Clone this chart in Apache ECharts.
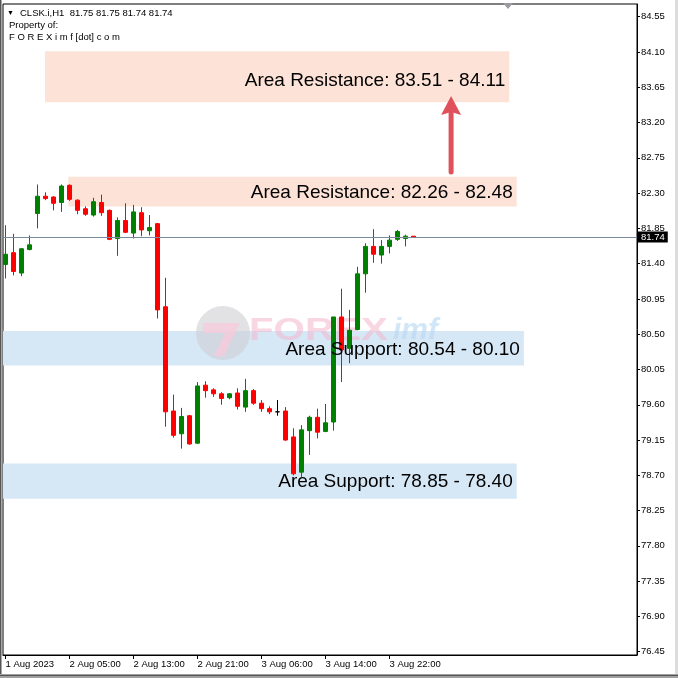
<!DOCTYPE html>
<html>
<head>
<meta charset="utf-8">
<script src="https://cdn.jsdelivr.net/npm/echarts@6/dist/echarts.min.js"></script>
<style>
html,body{margin:0;padding:0;background:#fff;}
#chart{width:678px;height:678px;}
</style>
</head>
<body>
<div id="chart"></div>
<script>
// ---- candle data (H1 bars, index = bar number) ----
const opens  = [81.39,81.54,81.28,81.58,82.04,82.26,82.25,82.18,82.40,82.21,82.10,82.02,82.18,82.08,81.72,81.95,81.79,82.05,81.82,81.91,80.85,79.52,79.23,79.46,79.11,79.85,79.79,79.74,79.69,79.75,79.57,79.78,79.62,79.55,79.51,79.52,79.19,78.74,79.27,79.44,79.26,79.38,80.72,80.32,80.56,81.27,81.62,81.51,81.62,81.71,81.72,81.75];
const closes = [81.52,81.30,81.59,81.64,82.26,82.23,82.17,82.39,82.22,82.08,82.03,82.19,82.05,81.71,81.95,81.80,82.06,81.83,81.86,80.81,79.51,79.21,79.45,79.10,79.84,79.78,79.74,79.68,79.74,79.58,79.78,79.62,79.55,79.51,79.51,79.15,78.72,79.28,79.44,79.25,79.37,80.72,80.30,80.55,81.27,81.62,81.52,81.62,81.70,81.81,81.75,81.74];
const lows   = [81.21,81.25,81.24,81.57,81.85,82.21,82.08,82.06,82.20,82.03,82.01,82.00,82.01,81.70,81.50,81.79,81.72,81.75,81.76,80.70,79.32,79.18,79.04,79.09,79.10,79.69,79.70,79.60,79.67,79.54,79.51,79.60,79.51,79.48,79.46,79.14,78.70,78.68,78.96,79.17,79.25,79.27,79.89,80.13,80.55,81.03,81.41,81.40,81.53,81.69,81.62,81.74];
const highs  = [81.89,81.78,81.60,81.76,82.41,82.31,82.26,82.41,82.41,82.22,82.13,82.24,82.28,82.09,81.99,82.17,82.15,82.12,82.02,81.92,81.22,79.73,79.56,79.47,79.89,79.90,79.81,79.76,79.75,79.81,79.93,79.80,79.66,79.58,79.66,79.57,79.30,79.34,79.46,79.55,79.61,80.72,81.08,80.81,81.36,81.66,81.84,81.70,81.76,81.83,81.77,81.75];

// ---- axis tick labels ----
const xTickIndex  = [0, 8, 16, 24, 32, 40, 48];
const xTickLabels = ['1 Aug 2023','2 Aug 05:00','2 Aug 13:00','2 Aug 21:00','3 Aug 06:00','3 Aug 14:00','3 Aug 22:00'];
const yTicks = [76.45,76.90,77.35,77.80,78.25,78.70,79.15,79.60,80.05,80.50,80.95,81.40,81.85,82.30,82.75,83.20,83.65,84.10,84.55];

// ---- zones (bar index range, price range) ----
const zoneStart = [4.94, 7.85, -1, -1];
const zoneEnd   = [62.97, 63.9, 64.8, 63.9];
const zoneLow   = [83.46, 82.13, 80.10, 78.40];
const zoneHigh  = [84.11, 82.51, 80.54, 78.85];
const zoneKind  = [0, 0, 1, 1]; // 0 resistance, 1 support
const zoneText  = ['Area Resistance: 83.51 - 84.11','Area Resistance: 82.26 - 82.48','Area Support: 80.54 - 80.10','Area Support: 78.85 - 78.40'];

// ---- arrow (bar index, from price, to price) ----
const arrowX = [55.7];
const arrowFrom = [82.57];
const arrowTo = [83.54];

const header = 'CLSK.i,H1  81.75 81.75 81.74 81.74';
const FONT = 'Liberation Sans';
const lastClose = closes[closes.length - 1];

const candleData = opens.map((o, i) => {
  const item = { value: [i, o, closes[i], lows[i], highs[i]] };
  if (o === closes[i]) item.itemStyle = { color: '#000', color0: '#000', borderColor: '#000', borderColor0: '#000' };
  return item;
});
const zoneData = zoneStart.map((s, i) => [s, zoneEnd[i], zoneLow[i], zoneHigh[i], zoneKind[i]]);
const labelData = zoneEnd.map((e, i) => [e, zoneLow[i], zoneHigh[i]]);
const arrowData = arrowX.map((x, i) => [x, arrowFrom[i], arrowTo[i]]);

const chart = echarts.init(document.getElementById('chart'), null, { renderer: 'canvas' });
chart.setOption({
  animation: false,
  backgroundColor: '#fff',
  grid: { left: 3, top: 4, right: 41, bottom: 23, show: true, borderColor: '#000', borderWidth: 1, backgroundColor: 'transparent', containLabel: false, outerBoundsMode: 'none' },
  xAxis: {
    type: 'value', min: -0.3125, max: 78.9375, position: 'bottom',
    axisLine: { show: true, onZero: false, lineStyle: { color: '#000', width: 1 } },
    axisTick: { show: true, length: 4, inside: false, lineStyle: { color: '#000' }, customValues: xTickIndex },
    axisLabel: { show: true, customValues: xTickIndex, align: 'left', margin: 4, color: '#000', fontFamily: FONT, fontSize: 9.5,
      formatter: v => { const k = xTickIndex.indexOf(Math.round(v)); return k >= 0 ? xTickLabels[k] : ''; } },
    splitLine: { show: false }
  },
  yAxis: {
    type: 'value', min: 76.408, max: 84.712, position: 'right', scale: true,
    axisLine: { show: true, onZero: false, lineStyle: { color: '#000', width: 1 } },
    axisTick: { show: true, length: 3, inside: false, lineStyle: { color: '#000' }, customValues: yTicks },
    axisLabel: { show: true, customValues: yTicks, margin: 4, color: '#000', fontFamily: FONT, fontSize: 9.5, formatter: v => v.toFixed(2) },
    splitLine: { show: false }
  },
  graphic: [
    { type: 'rect', z: 0, shape: { x: 0, y: 0, width: 1.5, height: 678 }, style: { fill: '#555' } },
    { type: 'rect', z: 0, shape: { x: 0, y: 674, width: 678, height: 4 }, style: { fill: '#a0a0a0' } },
    { type: 'rect', z: 0, shape: { x: 0, y: 675, width: 678, height: 1 }, style: { fill: '#555' } },
    { type: 'rect', z: 0, shape: { x: 675, y: 0, width: 3, height: 674 }, style: { fill: '#dcdcdc' } },
    { type: 'polygon', z: 5, shape: { points: [[503, 3], [513, 3], [508, 9]] }, style: { fill: '#9a9aa0' } },
    { type: 'text', z: 5, x: 7, y: 13, style: { text: '\u25BC', fill: '#000', fontSize: 7, fontFamily: FONT, verticalAlign: 'middle' } },
    { type: 'text', z: 5, x: 20, y: 13, style: { text: header, fill: '#000', fontSize: 9.5, fontFamily: FONT, verticalAlign: 'middle' } },
    { type: 'text', z: 5, x: 9, y: 25, style: { text: 'Property of:', fill: '#000', fontSize: 9.5, fontFamily: FONT, verticalAlign: 'middle' } },
    { type: 'text', z: 5, x: 9, y: 37, style: { text: 'F O R E X i m f [dot] c o m', fill: '#000', fontSize: 9.5, fontFamily: FONT, verticalAlign: 'middle' } },
    // watermark
    { type: 'circle', z: 2, silent: true, shape: { cx: 223, cy: 333, r: 27 }, style: { fill: '#cfcfd3', opacity: 0.6 } },
    { type: 'polygon', z: 2, silent: true, shape: { points: [[203, 323], [240, 323], [224, 356], [214, 356], [225, 333], [203, 333]] }, style: { fill: '#f8cad9', opacity: 0.75 } },
    { type: 'text', z: 2, silent: true, x: 249, y: 331, scaleX: 1.3, style: { text: 'FOREX', fill: '#f2b7cb', opacity: 0.55, fontSize: 31, fontWeight: 'bold', fontFamily: FONT, verticalAlign: 'middle' } },
    { type: 'text', z: 2, silent: true, x: 393, y: 331, style: { text: 'imf', fill: '#b8d9f3', opacity: 0.65, fontSize: 30, fontWeight: 'bold', fontStyle: 'italic', fontFamily: FONT, verticalAlign: 'middle' } }
  ],
  series: [
    {
      type: 'custom', name: 'zones', z: 1, silent: true,
      encode: { x: [0, 1], y: [2, 3] },
      data: zoneData,
      renderItem: (params, api) => {
        const p0 = api.coord([api.value(0), api.value(3)]);
        const p1 = api.coord([api.value(1), api.value(2)]);
        const cs = params.coordSys;
        const shape = echarts.graphic.clipRectByRect(
          { x: p0[0], y: p0[1], width: p1[0] - p0[0], height: p1[1] - p0[1] },
          { x: cs.x, y: cs.y, width: cs.width, height: cs.height });
        return shape && { type: 'rect', shape: shape, style: { fill: api.value(4) ? '#d6e7f6' : '#fde3d7' } };
      }
    },
    {
      type: 'candlestick', name: 'CLSK', z: 3, barWidth: 4, clip: true,
      itemStyle: { color: '#008000', color0: '#ff0000', borderColor: '#008000', borderColor0: '#ff0000', borderWidth: 1 },
      data: candleData,
      markLine: {
        silent: true, symbol: 'none', animation: false,
        lineStyle: { color: '#7b8a9a', width: 1, type: 'solid' },
        label: { show: true, position: 'end', distance: 1, formatter: lastClose.toFixed(2), color: '#fff', backgroundColor: '#000', padding: [1, 3, 0, 3], lineHeight: 10, fontFamily: FONT, fontSize: 9.5 },
        emphasis: { disabled: true },
        data: [{ yAxis: lastClose }]
      }
    },
    {
      type: 'custom', name: 'zoneLabels', z: 4, silent: true,
      encode: { x: 0, y: [1, 2] },
      data: labelData,
      renderItem: (params, api) => {
        const p = api.coord([api.value(0), (api.value(1) + api.value(2)) / 2]);
        const dy = params.dataIndex === 0 ? 4 : 1;
        return { type: 'text', x: p[0] - 4, y: p[1] + dy,
          style: { text: zoneText[params.dataIndex], fill: '#000', fontSize: 19, fontFamily: FONT, align: 'right', verticalAlign: 'middle' } };
      }
    },
    {
      type: 'custom', name: 'arrow', z: 4, silent: true,
      encode: { x: 0, y: [1, 2] },
      data: arrowData,
      renderItem: (params, api) => {
        const pb = api.coord([api.value(0), api.value(1)]);
        const pt = api.coord([api.value(0), api.value(2)]);
        const c = '#e0525b';
        return { type: 'group', children: [
          { type: 'line', shape: { x1: pb[0], y1: pb[1], x2: pt[0], y2: pt[1] + 15 }, style: { stroke: c, lineWidth: 5, lineCap: 'round' } },
          { type: 'polygon', shape: { points: [[pt[0], pt[1]], [pt[0] + 10, pt[1] + 19], [pt[0], pt[1] + 16], [pt[0] - 10, pt[1] + 19]] }, style: { fill: c } }
        ] };
      }
    }
  ]
});
</script>
</body>
</html>
